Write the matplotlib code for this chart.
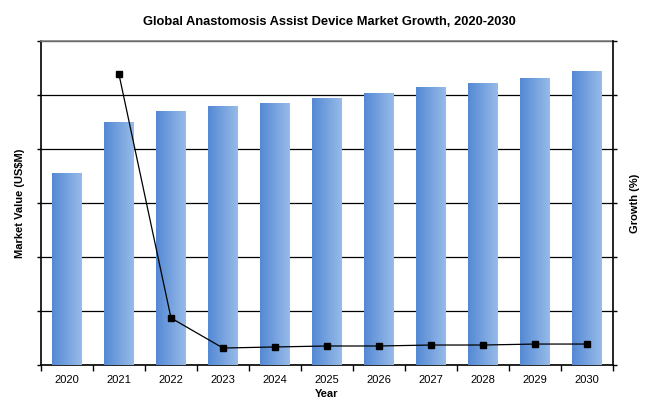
import numpy as np
import matplotlib
matplotlib.use("Agg")
import matplotlib.pyplot as plt
from matplotlib.colors import LinearSegmentedColormap

years = ["2020", "2021", "2022", "2023", "2024", "2025", "2026", "2027", "2028", "2029", "2030"]
market_value = [354, 450, 469, 478, 485, 494, 502, 513, 522, 531, 543]
growth_years = ["2021", "2022", "2023", "2024", "2025", "2026", "2027", "2028", "2029", "2030"]
growth_pct = [26.9, 4.35, 1.57, 1.67, 1.76, 1.76, 1.85, 1.85, 1.94, 1.94]

plt.rcParams['font.family'] = ['Liberation Sans', 'DejaVu Sans']

fig = plt.figure(figsize=(6.59, 4.08), dpi=100)
ax = fig.add_axes([41/659, 43/408, 572/659, 324/408])

x = np.arange(len(years))
bars = ax.bar(x, market_value, width=0.56, color='none', edgecolor='none', zorder=3)
cmap = LinearSegmentedColormap.from_list('g', ['#5489d4', '#97bbe8'])
grad = np.linspace(0, 1, 64).reshape(1, -1)
for b in bars:
    ax.imshow(grad, cmap=cmap, aspect='auto', zorder=3,
              extent=[b.get_x(), b.get_x() + b.get_width(), 0, b.get_height()])

ax.set_xlim(-0.5, len(years) - 0.5)
ax.set_ylim(0, 600)
ax.set_yticks(np.arange(0, 601, 100))
ax.set_yticklabels([])
ax.yaxis.grid(True, color='black', linewidth=0.9, zorder=1)
ax.set_axisbelow(True)
ax.set_xticks(x)
ax.set_xticklabels(years, fontsize=8)
ax.set_xticks(np.arange(-0.5, len(years), 1), minor=True)
ax.tick_params(axis='x', which='major', length=0, pad=7)
ax.tick_params(axis='x', which='minor', length=4, width=1, color='black', direction='out')
ax.tick_params(axis='y', length=3, width=1, direction='out')
for s in ['left', 'bottom']:
    ax.spines[s].set_color('black')
    ax.spines[s].set_linewidth(1.2)
ax.spines['top'].set_color('#808080')
ax.spines['top'].set_linewidth(1.2)
ax.spines['right'].set_visible(False)

ax.set_xlabel('Year', fontsize=8, fontweight='bold', labelpad=3)
ax.set_ylabel('Market Value (US$M)', fontsize=8, fontweight='bold', labelpad=5)

ax2 = ax.twinx()
gx = [years.index(y) for y in growth_years]
ax2.plot(gx, growth_pct, color='black', linewidth=0.9, marker='s', markersize=5,
         markerfacecolor='black', markeredgecolor='black', zorder=5)
ax2.set_ylim(0, 30)
ax2.set_yticks(np.arange(0, 31, 5))
ax2.set_yticklabels([])
ax2.tick_params(axis='y', length=3, width=1, direction='out')
ax2.spines['right'].set_color('black')
ax2.spines['right'].set_linewidth(1.2)
for s in ['left', 'top', 'bottom']:
    ax2.spines[s].set_visible(False)
ax2.set_ylabel('Growth (%)', fontsize=8, fontweight='bold', labelpad=6)

fig.text(0.5, 1 - 22/408, 'Global Anastomosis Assist Device Market Growth, 2020-2030',
         ha='center', va='center', fontsize=9.3, fontweight='bold')

fig.savefig('out.png', dpi=100)
